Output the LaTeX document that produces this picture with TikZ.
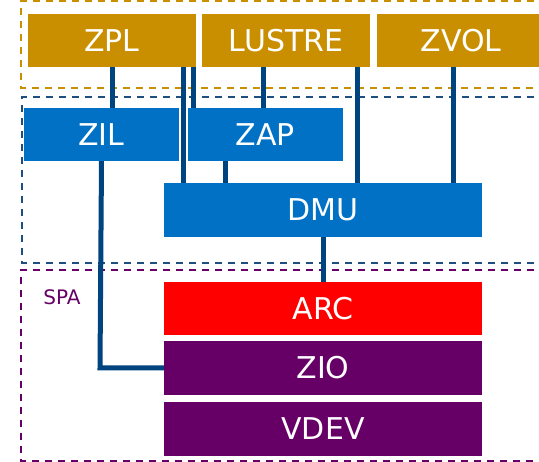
\documentclass[tikz,border=0pt]{standalone}
\usepackage{fontspec}
\setmainfont{DejaVu Sans}
\definecolor{gold}{HTML}{C98F00}
\definecolor{iblue}{HTML}{0071C5}
\definecolor{ired}{HTML}{FF0000}
\definecolor{ipurple}{HTML}{660066}
\definecolor{iline}{HTML}{00447F}
\definecolor{dblue}{HTML}{1F4E80}
\tikzset{
  blk/.style={rectangle, inner sep=0pt, text=white, font=\fontsize{30}{36}\selectfont},
  goldbox/.style={blk, fill=gold, minimum width=168pt, minimum height=53pt},
  bluebox/.style={blk, fill=iblue, minimum height=53pt},
  widebox/.style={blk, minimum width=318pt, minimum height=54pt},
  conn/.style={draw=iline, line width=5pt},
  grp/.style={line width=2pt, dash pattern=on 7pt off 6pt},
}
\begin{document}
\begin{tikzpicture}[x=1pt,y=-1pt]
\useasboundingbox (0,0) rectangle (539,462);
\clip (0,0) rectangle (539,462);
% group frames
\draw[grp, draw=gold] (560,1) -- (21,1) -- (21,88) -- (560,88);
\draw[grp, draw=dblue] (560,97) -- (22,97) -- (22,263) -- (560,263);
\draw[grp, draw=ipurple] (560,270) -- (21,270) -- (21,461) -- (560,461);
\node[text=ipurple, font=\fontsize{20}{24}\selectfont] (spa) at (62,297) {SPA};
% blocks
\node[goldbox] (zpl) at (112,40.5) {ZPL};
\node[goldbox] (lustre) at (286,40.5) {LUSTRE};
\node[goldbox] (zvol) at (461,40.5) {ZVOL};
\node[bluebox, minimum width=155pt] (zil) at (101.5,134.5) {ZIL};
\node[bluebox, minimum width=155pt] (zap) at (265.5,134.5) {ZAP};
\node[widebox, fill=iblue] (dmu) at (323,210) {DMU};
\node[widebox, fill=ired, minimum height=53pt] (arc) at (323,308.5) {ARC};
\node[widebox, fill=ipurple] (zio) at (323,368) {ZIO};
\node[widebox, fill=ipurple] (vdev) at (323,429) {VDEV};
% connectors
\draw[conn] (zpl.south) -- (zpl.south |- zil.north);
\draw[conn] ([xshift=71pt]zpl.south) -- ([xshift=71pt]zpl.south |- dmu.north);
\draw[conn] ([xshift=81pt]zpl.south) -- ([xshift=81pt]zpl.south |- zap.north);
\draw[conn] ([xshift=-23pt]lustre.south) -- ([xshift=-23pt]lustre.south |- zap.north);
\draw[conn] ([xshift=71pt]lustre.south) -- ([xshift=71pt]lustre.south |- dmu.north);
\draw[conn] ([xshift=-8pt]zvol.south) -- ([xshift=-8pt]zvol.south |- dmu.north);
\draw[conn] ([xshift=-40.5pt]zap.south) -- ([xshift=-40.5pt]zap.south |- dmu.north);
\draw[conn] (dmu.south) -- (arc.north);
\coordinate (bend) at (100,368);
\draw[conn] (zil.south) -- (bend) -- (zio.west);
\end{tikzpicture}
\end{document}
